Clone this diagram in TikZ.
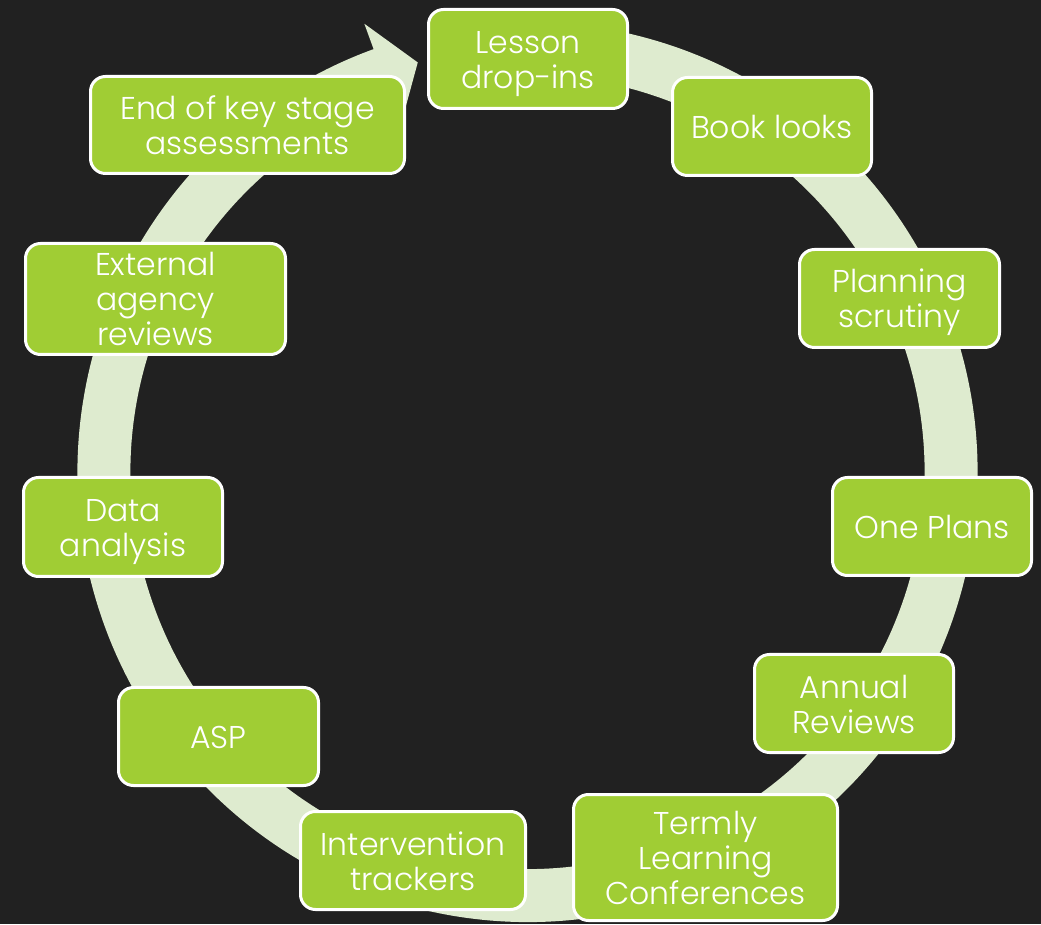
\documentclass[tikz,border=0pt]{standalone}
\usepackage{fontspec}
\setmainfont{Poppins Light}
\usetikzlibrary{calc}
\definecolor{bgc}{HTML}{212121}
\definecolor{ringc}{HTML}{DEEBCF}
\definecolor{boxc}{HTML}{A0CD34}
\newcommand{\boxtext}[1]{\raisebox{-5pt}[\height][\depth]{\begin{tabular}{@{}c@{}}#1\end{tabular}}}
\begin{document}
\begin{tikzpicture}[x=1pt,y=1pt,
  stepbox/.style={draw=white, line width=3pt, fill=boxc, rounded corners=15pt,
    text=white, inner sep=0pt,
    font=\fontsize{31.5}{35}\selectfont},
  ringstyle/.style={fill=ringc}]
\fill[bgc] (0,0) rectangle (1041,924);
\useasboundingbox (0,0) rectangle (1041,924);
\coordinate (C) at (527.5,452);
% circular arrow
\fill[ringstyle] ($(C)+(78:450)$) arc[start angle=78, end angle=-250, radius=450pt]
  -- ($(C)+(110:477)$) -- ($(C)+(105:424)$) -- ($(C)+(110:370)$) -- ($(C)+(110:397)$)
  arc[start angle=-250, end angle=78, radius=397pt] -- cycle;
% boxes
\node[stepbox, minimum width=199pt, minimum height=99pt] (b1) at (528,865) {\boxtext{Lesson\\drop-ins}};
\node[stepbox, minimum width=199pt, minimum height=98pt] (b2) at (772,797.5) {\boxtext{Book looks}};
\node[stepbox, minimum width=200pt, minimum height=98pt] (b3) at (899.5,625.5) {\boxtext{Planning\\scrutiny}};
\node[stepbox, minimum width=199pt, minimum height=98pt] (b4) at (932,397.5) {\boxtext{One Plans}};
\node[stepbox, minimum width=199pt, minimum height=98pt] (b5) at (854,220.5) {\boxtext{Annual\\Reviews}};
\node[stepbox, minimum width=264pt, minimum height=126pt] (b6) at (705.5,66.5) {\boxtext{Termly\\Learning\\Conferences}};
\node[stepbox, minimum width=225pt, minimum height=98pt] (b7) at (413,63.5) {\boxtext{Intervention\\trackers}};
\node[stepbox, minimum width=200pt, minimum height=98pt] (b8) at (218.5,187.5) {\boxtext{ASP}};
\node[stepbox, minimum width=199pt, minimum height=99pt] (b9) at (123,397) {\boxtext{Data\\analysis}};
\node[stepbox, minimum width=260pt, minimum height=111pt] (b10) at (155.5,625) {\boxtext{External\\agency\\reviews}};
\node[stepbox, minimum width=314pt, minimum height=97pt] (b11) at (247.5,799) {\boxtext{End of key stage\\assessments}};
\end{tikzpicture}
\end{document}
